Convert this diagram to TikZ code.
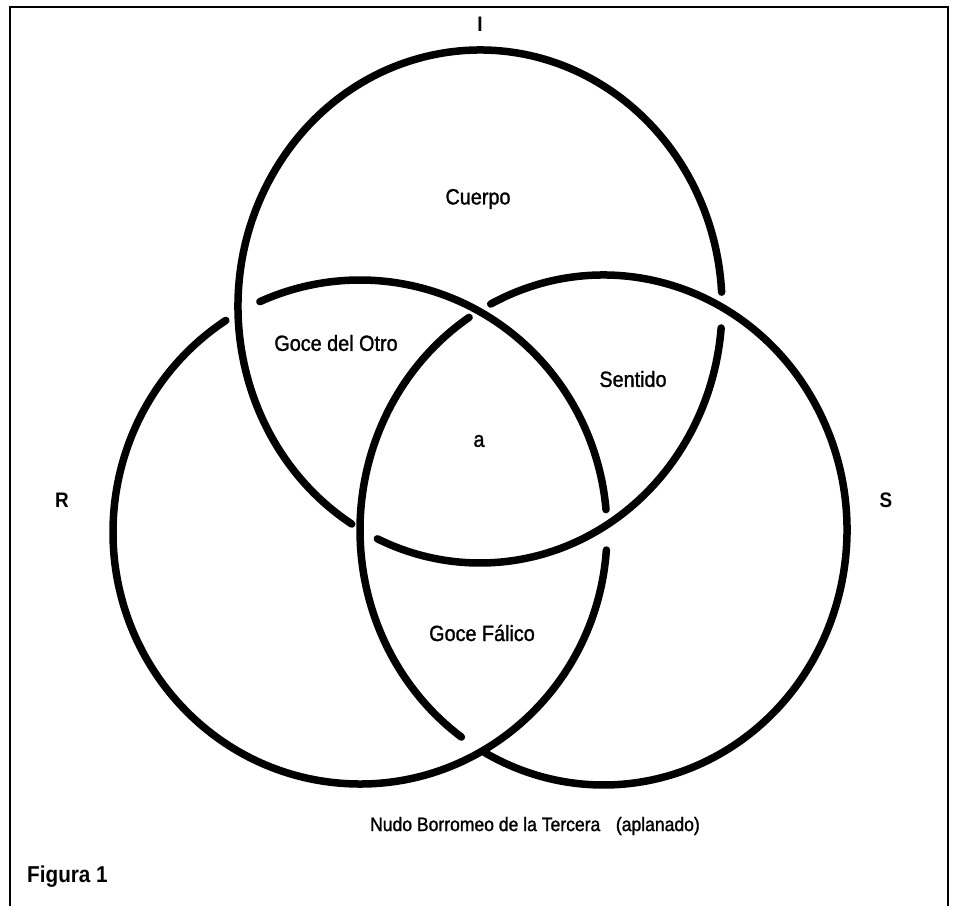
\documentclass[tikz,border=0pt]{standalone}
\usepackage{fontspec}
\setmainfont{Liberation Sans}[FakeStretch=0.9]
\newfontfamily\labelfont{Liberation Sans}[FakeStretch=0.9, FakeBold=1.3]
\begin{document}
\begin{tikzpicture}[x=1pt,y=-1pt,
  ring/.style={line width=7.5pt, line cap=round, black},
  frameline/.style={line width=2.5pt, line join=miter},
  lbl/.style={inner sep=0pt, font=\labelfont\fontsize{22}{24}\selectfont},
  ringname/.style={inner sep=0pt, font=\fontsize{21}{24}\selectfont\bfseries},
]
\useasboundingbox (0,0) rectangle (954,906);

% open frame (no bottom edge)
\coordinate (fbl) at (10,906);
\coordinate (ftl) at (10,7);
\coordinate (ftr) at (948,7);
\coordinate (fbr) at (948,906);
\draw[frameline] (fbl) -- (ftl) -- (ftr) -- (fbr);

% ring centres
\coordinate (cI) at (480,306.5);
\coordinate (cR) at (360,532);
\coordinate (cS) at (603.5,530);

% ring I (passes under S, over R)
\draw[ring] (cI) ++(4.8:242 and 256.5)
  arc[start angle=4.8, end angle=115.1, x radius=242, y radius=256.5];
\draw[ring] (cI) ++(122.0:242 and 256.5)
  arc[start angle=122.0, end angle=356.8, x radius=242, y radius=256.5];

% ring R (passes under I, over S)
\draw[ring] (cR) ++(4.1:247 and 252)
  arc[start angle=4.1, end angle=237.1, x radius=247, y radius=252];
\draw[ring] (cR) ++(246.1:247 and 252)
  arc[start angle=246.1, end angle=354.9, x radius=247, y radius=252];

% ring S (passes under R, over I)
\draw[ring] (cS) ++(242.4:243.5 and 255)
  arc[start angle=242.4, end angle=479.2, x radius=243.5, y radius=255];
\draw[ring] (cS) ++(125.7:243.5 and 255)
  arc[start angle=125.7, end angle=236.5, x radius=243.5, y radius=255];

% ring names
\node[ringname] (nI) at (480,24) {I};
\node[ringname] (nR) at (62,500) {R};
\node[ringname] (nS) at (886,500) {S};

% regions
\node[lbl] (cuerpo) at (478,199) {Cuerpo};
\node[lbl] (otro) at (336,343) {Goce del Otro};
\node[lbl] (sentido) at (633,379) {Sentido};
\node[lbl] (objeto) at (479,441) {a};
\node[lbl] (falico) at (482,633) {Goce Fálico};

% captions
\node[lbl, font=\labelfont\fontsize{19.5}{22}\selectfont] (nudo) at (535,826)
  {Nudo Borromeo de la Tercera\hspace{0.8em}(aplanado)};
\node[inner sep=0pt, anchor=west, font=\fontsize{23}{26}\selectfont\bfseries] (fig) at (27,877) {Figura 1};
\end{tikzpicture}
\end{document}
